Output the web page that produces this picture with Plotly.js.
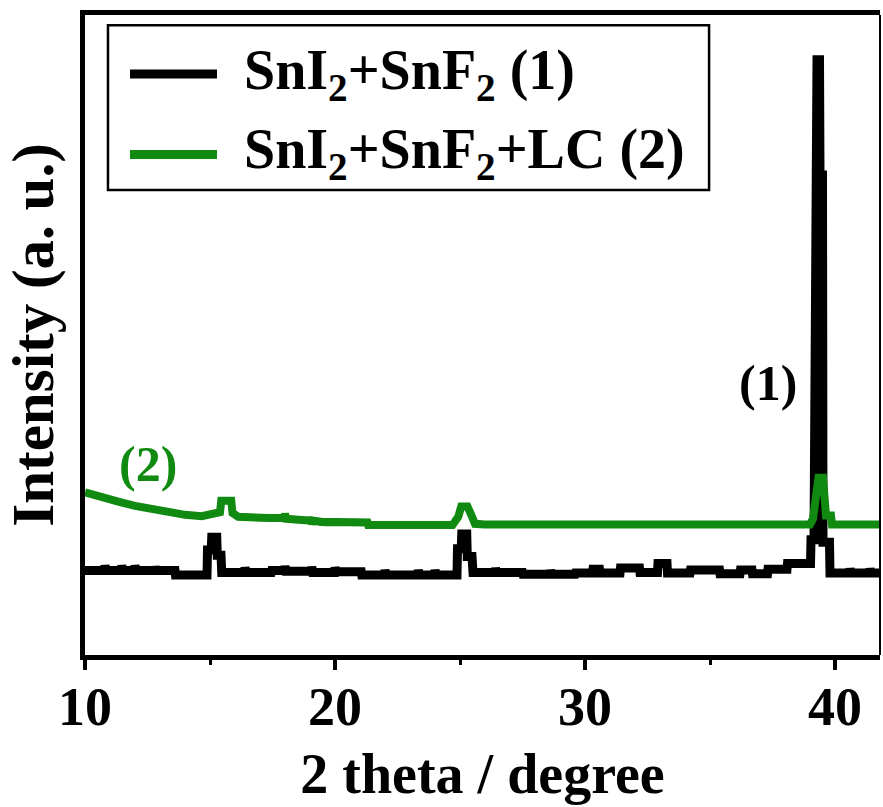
<!DOCTYPE html>
<html>
<head>
<meta charset="utf-8">
<script src="https://cdn.plot.ly/plotly-3.0.1.min.js"></script>
<style>html,body{margin:0;padding:0;background:#fff;}</style>
</head>
<body>
<div id="chart" style="width:883px;height:807px;"></div>
<script>
// ---- Data ----
const seriesNames = ["SnI<sub>2</sub>+SnF<sub>2</sub> (1)", "SnI<sub>2</sub>+SnF<sub>2</sub>+LC (2)"];
const seriesLabels = ["(1)", "(2)"];
const xTickVals = [10, 20, 30, 40];
const xTickText = ["10", "20", "30", "40"];

// Sample (1): SnI2+SnF2
const x1 = [10.0, 10.78, 10.8, 10.84, 11.45, 11.47, 11.51, 11.98, 12.0, 12.04, 12.78, 12.8, 12.84, 13.6, 13.62,
  14.88, 14.9, 15.05, 15.07, 15.27, 15.29, 15.44, 15.47, 16.38, 16.4, 16.44, 17.45, 17.47, 17.98, 18.0, 18.04,
  19.05, 19.07, 19.11, 19.98, 20.0, 20.04, 21.05, 21.07, 21.98, 22.0, 22.04, 23.31, 23.33, 23.37, 23.98, 24.0, 24.04,
  24.88, 24.9, 25.05, 25.07, 25.27, 25.29, 25.48, 25.52, 26.4, 26.42, 26.46, 27.5, 27.52, 28.6, 28.62, 28.66,
  29.6, 29.62, 30.3, 30.32, 30.58, 30.6, 31.4, 31.42, 32.18, 32.2, 32.9, 32.92, 33.28, 33.3, 34.2, 34.22, 35.38, 35.4,
  36.2, 36.22, 36.68, 36.7, 37.3, 37.32, 38.08, 38.1, 39.02, 39.04, 39.16, 39.18, 39.26, 39.28, 39.38, 39.40,
  39.50, 39.52, 39.78, 39.8, 40.58, 40.6, 40.64, 41.38, 41.4, 41.44, 41.8];
const y1 = [13.2, 13.2, 14.0, 13.2, 13.2, 14.0, 13.2, 13.2, 14.0, 13.2, 13.2, 13.8, 13.2, 13.2, 12.5,
  12.5, 16.4, 16.4, 18.4, 18.4, 15.6, 15.6, 12.9, 12.9, 13.7, 12.9, 12.9, 13.2, 13.2, 13.9, 13.1,
  13.1, 13.8, 12.9, 12.9, 13.7, 13.0, 13.0, 12.5, 12.5, 13.3, 12.5, 12.5, 13.3, 12.5, 12.5, 13.3, 12.5,
  12.5, 16.6, 16.6, 18.9, 18.9, 15.4, 15.4, 12.9, 12.9, 13.6, 12.9, 12.9, 12.6, 12.6, 13.3, 12.6,
  12.6, 12.8, 12.8, 13.4, 13.4, 12.8, 12.8, 13.6, 13.6, 12.9, 12.9, 14.3, 14.3, 12.8, 12.8, 13.3, 13.3, 12.7,
  12.7, 13.3, 13.3, 12.7, 12.7, 13.4, 13.4, 14.3, 14.3, 18.0, 18.0, 62.8, 62.8, 93.0, 93.0, 75.0,
  75.0, 17.6, 17.6, 12.8, 12.8, 13.5, 12.8, 12.8, 13.5, 12.8, 12.8];

// Sample (2): SnI2+SnF2+LC
const x2 = [10.0, 10.4, 10.8, 11.33, 12.0, 12.67, 13.33, 14.0, 14.67, 15.2, 15.4, 15.45, 15.85, 15.9, 16.13,
  17.33, 17.98, 18.0, 18.04, 18.67, 19.05, 19.07, 19.11, 19.45, 19.47, 19.51, 21.3, 21.33, 24.7, 24.93, 25.05,
  25.3, 25.45, 25.6, 26.0, 28.0, 30.0, 32.0, 34.0, 36.0, 38.0, 39.0, 39.12, 39.2, 39.34, 39.52, 39.58, 39.64,
  39.84, 39.88, 41.8];
const y2 = [25.4, 24.9, 24.4, 23.95, 23.3, 22.8, 22.4, 21.9, 21.7, 22.0, 22.3, 24.1, 24.1, 22.2, 21.6,
  21.4, 21.4, 22.1, 21.3, 21.1, 21.0, 20.4, 21.0, 20.8, 20.3, 20.8, 20.7, 20.3, 20.3, 21.6, 23.2,
  23.2, 21.9, 20.5, 20.4, 20.4, 20.4, 20.4, 20.4, 20.4, 20.4, 20.4, 21.3, 24.3, 27.7, 27.7, 24.0, 21.8,
  21.8, 20.4, 20.4];

const black = "#000000";
const green = "#108a10";
const fontFam = "Liberation Serif, Times New Roman, serif";

const traces = [
  {x: x1, y: y1, type: "scatter", mode: "lines", name: seriesNames[0], xaxis: "x", yaxis: "y",
   line: {color: black, width: 9, shape: "linear"}, showlegend: false, hoverinfo: "skip"},
  {x: x2, y: y2, type: "scatter", mode: "lines", name: seriesNames[1], xaxis: "x2", yaxis: "y",
   line: {color: green, width: 8, shape: "linear"}, showlegend: false, hoverinfo: "skip"}
];

const xRange = [10, 41.8];

const layout = {
  width: 883, height: 807,
  margin: {l: 85, r: 3, t: 15, b: 152, pad: 0},
  paper_bgcolor: "#ffffff", plot_bgcolor: "#ffffff",
  showlegend: false,
  font: {family: fontFam, color: "#000", weight: "bold"},
  // labelled axis (ticks drawn by the overlaid twin so the labels sit close to the frame)
  xaxis: {
    range: xRange, autorange: false,
    tickmode: "array", tickvals: xTickVals, ticktext: xTickText,
    ticks: "", ticklen: 0,
    showline: true, linewidth: 5, linecolor: "#000", mirror: true,
    showgrid: false, zeroline: false,
    tickfont: {family: fontFam, size: 54, color: "#000", weight: "bold"},
    title: {text: "2 theta / degree", font: {family: fontFam, size: 56, color: "#000", weight: "bold"}, standoff: 20},
    automargin: false
  },
  xaxis2: {
    range: xRange, autorange: false, matches: "x",
    overlaying: "x", anchor: "y", side: "bottom",
    tickmode: "array", tickvals: xTickVals, showticklabels: false,
    ticks: "outside", ticklen: 14, tickwidth: 4, tickcolor: "#000",
    minor: {dtick: 5, tick0: 10, ticks: "outside", ticklen: 9, tickwidth: 3, tickcolor: "#000", showgrid: false},
    showline: false, showgrid: false, zeroline: false, automargin: false
  },
  yaxis: {
    range: [0, 100], autorange: false,
    showticklabels: false, ticks: "",
    showline: true, linewidth: 5, linecolor: "#000", mirror: false,
    showgrid: false, zeroline: false,
    title: {text: "Intensity (a. u.)", font: {family: fontFam, size: 59, color: "#000", weight: "bold"}, standoff: 10},
    automargin: false
  },
  shapes: [
    {type: "line", xref: "paper", yref: "paper", x0: 1, x1: 1, y0: 0, y1: 1, line: {color: "#000", width: 2}},
    {type: "rect", xref: "paper", yref: "paper", x0: 0.0289, x1: 0.785, y0: 0.7266, y1: 0.984,
     line: {color: "#000", width: 2.5}, fillcolor: "rgba(255,255,255,0)"},
    {type: "line", xref: "paper", yref: "paper", x0: 0.0566, x1: 0.166, y0: 0.908, y1: 0.908, line: {color: black, width: 9}},
    {type: "line", xref: "paper", yref: "paper", x0: 0.0566, x1: 0.166, y0: 0.782, y1: 0.782, line: {color: green, width: 9}}
  ],
  annotations: [
    {xref: "paper", yref: "paper", x: 0.1975, y: 0.908, xanchor: "left", yanchor: "middle", showarrow: false,
     text: seriesNames[0], font: {family: fontFam, size: 56, color: "#000", weight: "bold"}},
    {xref: "paper", yref: "paper", x: 0.1975, y: 0.784, xanchor: "left", yanchor: "middle", showarrow: false,
     text: seriesNames[1], font: {family: fontFam, size: 56, color: "#000", weight: "bold"}},
    {xref: "x", yref: "y", x: 37.3, y: 42.5, xanchor: "center", yanchor: "middle", showarrow: false,
     text: seriesLabels[0], font: {family: fontFam, size: 50, color: "#000", weight: "bold"}},
    {xref: "x", yref: "y", x: 12.5, y: 29.8, xanchor: "center", yanchor: "middle", showarrow: false,
     text: seriesLabels[1], font: {family: fontFam, size: 50, color: green, weight: "bold"}}
  ]
};

Plotly.newPlot("chart", traces, layout, {displayModeBar: false, staticPlot: true});
</script>
</body>
</html>
